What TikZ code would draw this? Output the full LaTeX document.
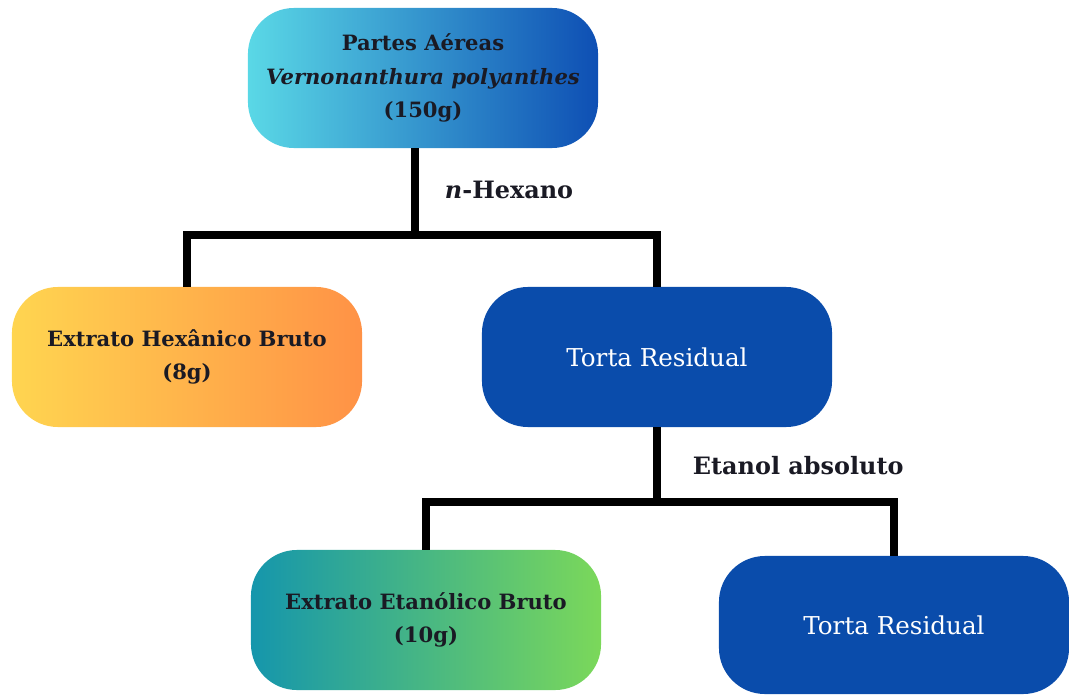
\documentclass[tikz,border=0pt]{standalone}
\usepackage{fontspec}
\setmainfont{DejaVu Serif}
\definecolor{ink}{HTML}{1A1A24}
\definecolor{cyanA}{HTML}{5AD8E6}
\definecolor{blueA}{HTML}{0E4FB4}
\definecolor{yellowA}{HTML}{FFD550}
\definecolor{orangeA}{HTML}{FF9246}
\definecolor{tealA}{HTML}{1596AC}
\definecolor{greenA}{HTML}{7BD85A}
\definecolor{torta}{HTML}{0A4CAB}
\begin{document}
\begin{tikzpicture}[x=0.025cm, y=-0.025cm,
    box/.style={rounded corners=1.15cm, minimum width=8.75cm, minimum height=3.5cm,
        align=center, text=ink, font=\fontsize{15}{24}\selectfont\bfseries},
    tortabox/.style={box, fill=torta, text=white, font=\fontsize{17.5}{24}\selectfont},
    tree/.style={line width=5.2pt, line join=miter},
    solvent/.style={anchor=west, text=ink, font=\fontsize{17}{20}\selectfont\bfseries}]
    \useasboundingbox (0,0) rectangle (1069,695);
        % extraction scheme
        \node[box, left color=cyanA, right color=blueA] (partes) at (423,78)
            {Partes Aéreas\\\textit{Vernonanthura polyanthes}\\(150g)};
        \node[box, left color=yellowA, right color=orangeA] (hexanico) at (187,357)
            {Extrato Hexânico Bruto\\(8g)};
        \node[tortabox] (torta1) at (657,357) {Torta Residual};
        \node[box, left color=tealA, right color=greenA] (etanolico) at (426,620)
            {Extrato Etanólico Bruto\\(10g)};
        \node[tortabox, minimum height=3.45cm] (torta2) at (894,625) {Torta Residual};
        \coordinate (j1) at (415,235);
        \coordinate (j2) at (657,502);
        \node[solvent] (hexano) at (440,190) {\textit{n}-Hexano};
        \node[solvent] (etanol) at (688,466) {Etanol absoluto};
        \draw[tree] (partes.south -| j1) -- (j1);
        \draw[tree] (hexanico.north) |- (j1) -| (torta1.north);
        \draw[tree] (torta1.south) -- (j2);
        \draw[tree] (etanolico.north) |- (j2) -| (torta2.north);
    \end{tikzpicture}
\end{document}
